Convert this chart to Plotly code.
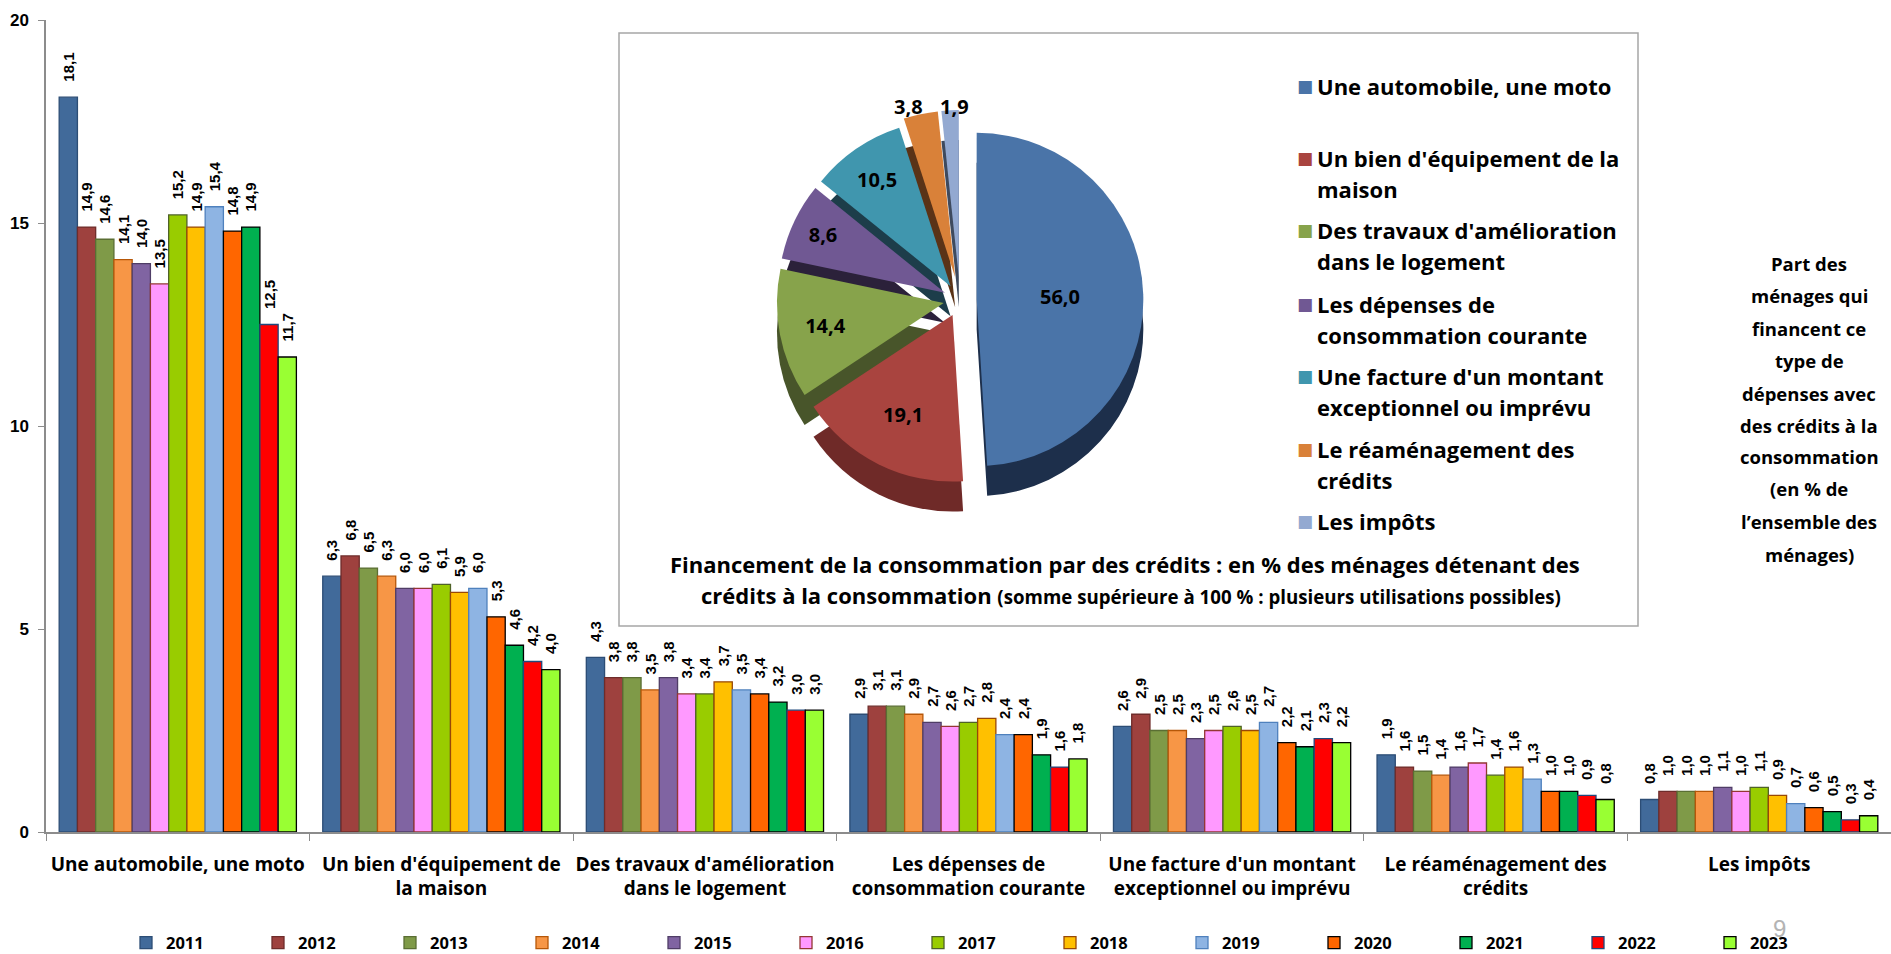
import plotly.graph_objects as go

# ---- bar chart data: share of households (%) by purpose, 2011-2023 ----
years = ["2011", "2012", "2013", "2014", "2015", "2016", "2017",
         "2018", "2019", "2020", "2021", "2022", "2023"]

categories = [
    "Une automobile, une moto",
    "Un bien d'équipement de<br>la maison",
    "Des travaux d'amélioration<br>dans le logement",
    "Les dépenses de<br>consommation courante",
    "Une facture d'un montant<br>exceptionnel ou imprévu",
    "Le réaménagement des<br>crédits",
    "Les impôts",
]

auto_moto = [18.1, 14.9, 14.6, 14.1, 14.0, 13.5, 15.2, 14.9, 15.4, 14.8, 14.9, 12.5, 11.7]
equipement = [6.3, 6.8, 6.5, 6.3, 6.0, 6.0, 6.1, 5.9, 6.0, 5.3, 4.6, 4.2, 4.0]
travaux = [4.3, 3.8, 3.8, 3.5, 3.8, 3.4, 3.4, 3.7, 3.5, 3.4, 3.2, 3.0, 3.0]
depenses_courantes = [2.9, 3.1, 3.1, 2.9, 2.7, 2.6, 2.7, 2.8, 2.4, 2.4, 1.9, 1.6, 1.8]
facture = [2.6, 2.9, 2.5, 2.5, 2.3, 2.5, 2.6, 2.5, 2.7, 2.2, 2.1, 2.3, 2.2]
reamenagement = [1.9, 1.6, 1.5, 1.4, 1.6, 1.7, 1.4, 1.6, 1.3, 1.0, 1.0, 0.9, 0.8]
impots = [0.8, 1.0, 1.0, 1.0, 1.1, 1.0, 1.1, 0.9, 0.7, 0.6, 0.5, 0.3, 0.4]

y_ticks = [0, 5, 10, 15, 20]

# ---- inset pie data: % of households holding consumer credit ----
pie_labels = [
    "Une automobile, une moto",
    "Un bien d'équipement de la<br>maison",
    "Des travaux d'amélioration<br>dans le logement",
    "Les dépenses de<br>consommation courante",
    "Une facture d'un montant<br>exceptionnel ou imprévu",
    "Le réaménagement des<br>crédits",
    "Les impôts",
]
pie_values = [56.0, 19.1, 14.4, 8.6, 10.5, 3.8, 1.9]

# ---- styling ----
bar_fill = ["#416A9A", "#9E413E", "#7F9A48", "#F79646", "#8064A2", "#FF99FF", "#99CC00",
            "#FFC000", "#8EB4E3", "#FF6600", "#00B050", "#FF0000", "#99FF33"]
bar_edge = ["#2C4D75", "#6E2C2A", "#5A6E33", "#B65708", "#4F3D66", "#943634", "#4F6228",
            "#984807", "#4F81BD", "#000000", "#000000", "#1F497D", "#000000"]
pie_top = ["#4A74A8", "#A9443F", "#87A34B", "#705893", "#4096AE", "#D98139", "#93A9D1"]
pie_side = ["#1D2F4B", "#6F2A28", "#48552A", "#2B213A", "#1D3D4A", "#5A3317", "#3E4A5E"]
pie_pull = [0.1, 0.1, 0.1, 0.1, 0.1, 0.14, 0.14]
# the two thin slices get their values written above the pie instead of inside
pie_textpos = ["inside", "inside", "inside", "inside", "inside", "none", "none"]

W, H = 1891, 954
PL, PR, PT, PB = 46, 1891, 20, 832   # plot area in pixels


def fx(px):
    return (px - PL) / (PR - PL)


def fy(py):
    return (PB - py) / (PB - PT)


TXT = "Open Sans"
BOLD_BLACK = dict(family=TXT, color="black", weight="bold")

series_by_category = [auto_moto, equipement, travaux, depenses_courantes,
                      facture, reamenagement, impots]

fig = go.Figure()

for i, yr in enumerate(years):
    vals = [s[i] for s in series_by_category]
    fig.add_trace(go.Bar(
        x=categories, y=vals, name=yr,
        marker=dict(color=bar_fill[i], line=dict(color=bar_edge[i], width=1.3)),
        texttemplate="\u00a0\u00a0\u00a0%{y:.1f}",
        textposition="outside", textangle=-90, constraintext="none",
        textfont=dict(family="Liberation Sans", size=15, color="black", weight="bold"),
        cliponaxis=False,
    ))

# inset pie: a darker copy shifted downwards gives the slices their thickness
depth = 30
cx, cy, side = 960, 300, 380
fig.add_trace(go.Pie(
    labels=pie_labels, values=pie_values, sort=False, direction="clockwise", rotation=0,
    pull=pie_pull, marker=dict(colors=pie_side, line=dict(width=0)),
    textinfo="none", hoverinfo="skip", showlegend=False,
    domain=dict(x=[fx(cx - side / 2), fx(cx + side / 2)],
                y=[fy(cy + depth + side / 2), fy(cy + depth - side / 2)]),
))
fig.add_trace(go.Pie(
    labels=pie_labels, values=pie_values, sort=False, direction="clockwise", rotation=0,
    pull=pie_pull, marker=dict(colors=pie_top, line=dict(width=0)),
    texttemplate="%{value:.1f}", textposition=pie_textpos,
    insidetextorientation="horizontal",
    textfont=dict(family=TXT, size=20, color="black", weight="bold"),
    showlegend=False,
    domain=dict(x=[fx(cx - side / 2), fx(cx + side / 2)],
                y=[fy(cy + side / 2), fy(cy - side / 2)]),
))

annotations = []

# values of the two thin slices, written above them
for val, xpos in zip(pie_values[5:], [cx - 52, cx - 6]):
    annotations.append(dict(
        x=fx(xpos), y=fy(cy - side / 2 - 4), xref="paper", yref="paper",
        text=f"{val:.1f}".replace(".", ","), showarrow=False,
        xanchor="center", yanchor="middle", font=dict(BOLD_BLACK, size=20)))

# pie legend (squares + labels, one annotation per text line)
legend_y = [86, 158, 230, 304, 376, 449, 521]
legend_line_gap = 31
for lab, col, yy in zip(pie_labels, pie_top, legend_y):
    annotations.append(dict(
        x=fx(1305), y=fy(yy), xref="paper", yref="paper", text="■", showarrow=False,
        xanchor="center", yanchor="middle", font=dict(family="DejaVu Sans", size=17, color=col)))
    for k, part in enumerate(lab.split("<br>")):
        annotations.append(dict(
            x=fx(1315), y=fy(yy + k * legend_line_gap), xref="paper", yref="paper",
            text=part, showarrow=False, xanchor="left", yanchor="middle",
            font=dict(BOLD_BLACK, size=22)))

# pie caption
annotations.append(dict(
    x=fx(1125), y=fy(564), xref="paper", yref="paper", showarrow=False,
    xanchor="center", yanchor="middle",
    text="Financement de la consommation par des crédits : en % des ménages détenant des",
    font=dict(BOLD_BLACK, size=22)))
annotations.append(dict(
    x=fx(1131), y=fy(595), xref="paper", yref="paper", showarrow=False,
    xanchor="center", yanchor="middle",
    text="crédits à la consommation <span style='font-size:18.7px'>(somme supérieure à 100 % : "
         "plusieurs utilisations possibles)</span>",
    font=dict(BOLD_BLACK, size=22)))

# side note
note_lines = ["Part des", "ménages qui", "financent ce", "type de", "dépenses avec",
              "des crédits à la", "consommation", "(en % de", "l’ensemble des", "ménages)"]
note_y = [263, 295, 328, 361, 393, 425, 457, 488, 521, 554]
for line, yy in zip(note_lines, note_y):
    annotations.append(dict(
        x=fx(1809), y=fy(yy), xref="paper", yref="paper", text=line, showarrow=False,
        xanchor="center", yanchor="middle", font=dict(BOLD_BLACK, size=18.5)))

# slide number
annotations.append(dict(
    x=fx(1779), y=fy(928), xref="paper", yref="paper", text="9", showarrow=False,
    xanchor="center", yanchor="middle",
    font=dict(family="Liberation Sans", size=24, color="#B4B4B4")))

fig.update_layout(
    width=W, height=H,
    margin=dict(l=PL, r=W - PR, t=PT, b=H - PB, pad=0, autoexpand=False),
    paper_bgcolor="white", plot_bgcolor="rgba(0,0,0,0)",
    barmode="group", bargap=0.1, bargroupgap=0,
    separators=", ",
    showlegend=True,
    legend=dict(orientation="h", xref="container", yref="container",
                x=126 / W, y=1 - 943 / H, xanchor="left", yanchor="middle",
                entrywidth=87, entrywidthmode="pixels", traceorder="normal",
                font=dict(BOLD_BLACK, size=16.5), bgcolor="rgba(0,0,0,0)"),
    shapes=[dict(type="rect", xref="x domain", yref="y domain",
                 x0=fx(619), x1=fx(1638), y0=fy(626), y1=fy(33),
                 line=dict(color="#A6A6A6", width=1.5), fillcolor="white", layer="below")],
    annotations=annotations,
    xaxis=dict(type="category", showline=True, linecolor="#8C8C8C", linewidth=1.5,
               ticks="outside", tickson="boundaries", ticklen=7, tickcolor="#8C8C8C",
               tickangle=0, ticklabelstandoff=14,
               showgrid=False, tickfont=dict(BOLD_BLACK, size=19)),
    yaxis=dict(range=[0, 20], tickvals=y_ticks, showline=True, linecolor="#8C8C8C",
               linewidth=1.5, ticks="outside", ticklen=6, tickcolor="#8C8C8C",
               ticklabelstandoff=6,
               showgrid=False, zeroline=False,
               tickfont=dict(family="Liberation Sans", size=17,
                             color="black", weight="bold")),
)

fig.write_html("out.html")
